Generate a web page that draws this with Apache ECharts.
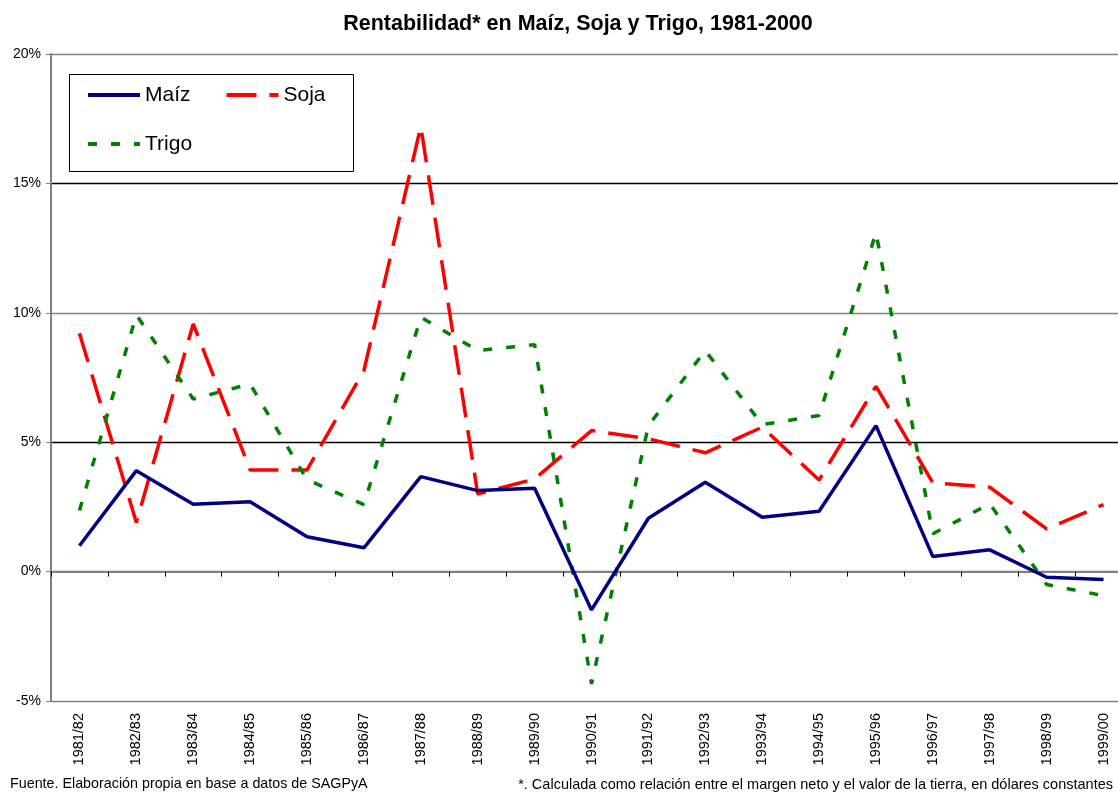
<!DOCTYPE html>
<html>
<head>
<meta charset="utf-8">
<script src="https://cdn.jsdelivr.net/npm/echarts@6/dist/echarts.min.js"></script>
<style>html,body{margin:0;padding:0;background:#fff;overflow:hidden;width:1118px;height:793px}#c{width:1132px;height:793px}</style>
</head>
<body>
<div id="c"></div>
<script>
const categories = ['1981/82','1982/83','1983/84','1984/85','1985/86','1986/87','1987/88','1988/89','1989/90','1990/91','1991/92','1992/93','1993/94','1994/95','1995/96','1996/97','1997/98','1998/99','1999/00'];
const maiz  = [1.0, 3.9, 2.6, 2.7, 1.35, 0.92, 3.67, 3.13, 3.22, -1.48, 2.06, 3.45, 2.1, 2.33, 5.64, 0.58, 0.84, -0.22, -0.31];
const soja  = [9.21, 1.9, 9.57, 3.93, 3.93, 7.77, 17.2, 3.0, 3.58, 5.45, 5.13, 4.59, 5.58, 3.54, 7.16, 3.43, 3.26, 1.65, 2.59];
const trigo = [2.36, 9.92, 6.67, 7.25, 3.55, 2.59, 9.83, 8.54, 8.77, -4.34, 5.64, 8.54, 5.68, 6.03, 13.1, 1.46, 2.62, -0.5, -0.93];
const yTicks = {min: -5, max: 20, interval: 5};
const titleText = 'Rentabilidad* en Maíz, Soja y Trigo, 1981-2000';
const sourceText = 'Fuente. Elaboración propia en base a datos de SAGPyA';
const noteText = '*. Calculada como relación entre el margen neto y el valor de la tierra, en dólares constantes';

const FONT = 'Liberation Sans, Arial, sans-serif';
const chart = echarts.init(document.getElementById('c'));
const legendText = {fontFamily: FONT, fontSize: 21, color: '#000', lineHeight: 24};
chart.setOption({
  animation: false,
  backgroundColor: '#fff',
  title: {
    text: titleText, left: 573, textAlign: 'center', top: 8,
    textStyle: {fontFamily: FONT, fontSize: 21.5, fontWeight: 'bold', color: '#000'}
  },
  grid: {left: 51, top: 54, right: 0, bottom: 92},
  legend: [
    {data: ['Maíz', 'Soja'], left: 86, top: 83, padding: 0, itemGap: 34, itemWidth: 52, itemHeight: 14,
     itemStyle: {opacity: 0}, lineStyle: {width: 4}, textStyle: legendText},
    {data: ['Trigo'], left: 86, top: 132, padding: 0, itemWidth: 52, itemHeight: 14,
     itemStyle: {opacity: 0}, lineStyle: {width: 4}, textStyle: legendText}
  ],
  graphic: [
    {type: 'rect', left: 67, top: 72, shape: {width: 284, height: 97}, style: {fill: 'none', stroke: '#000', lineWidth: 1}, z: 100},
    {type: 'text', left: 10, top: 777, style: {text: sourceText, font: '14.3px ' + FONT, fill: '#000'}},
    {type: 'text', right: 19, top: 777, style: {text: noteText, font: '14.5px ' + FONT, fill: '#000'}}
  ],
  xAxis: [
    {type: 'category', data: categories, boundaryGap: true,
     axisLine: {onZero: true, lineStyle: {color: '#808080', width: 2}},
     axisTick: {show: true, length: 5, lineStyle: {color: '#000'}},
     axisLabel: {show: false}},
    {type: 'category', data: categories, boundaryGap: true, position: 'bottom',
     axisLine: {show: false, onZero: false}, axisTick: {show: false},
     axisLabel: {rotate: 90, margin: 12, fontFamily: FONT, fontSize: 14.5, color: '#000', interval: 0}}
  ],
  yAxis: {
    type: 'value', min: yTicks.min, max: yTicks.max, interval: yTicks.interval,
    axisLine: {show: true, lineStyle: {color: '#808080', width: 2}},
    axisTick: {show: true, length: 5, lineStyle: {color: '#808080'}},
    axisLabel: {formatter: '{value}%', fontFamily: FONT, fontSize: 14, color: '#000', margin: 10},
    splitLine: {show: true, lineStyle: {color: ['#808080', '#808080', '#000', '#808080', '#000', '#808080'], width: 1.3}}
  },
  series: [
    {name: 'Maíz', type: 'line', data: maiz, symbol: 'none', color: '#000080',
     lineStyle: {color: '#000080', width: 3.5, type: 'solid'}, z: 5},
    {name: 'Soja', type: 'line', data: soja, symbol: 'none', color: '#ff0000',
     lineStyle: {color: '#ff0000', width: 3.5, type: [30, 13]}, z: 3},
    {name: 'Trigo', type: 'line', data: trigo, symbol: 'none', color: '#008000',
     lineStyle: {color: '#008000', width: 3.5, type: [9, 14]}, z: 4}
  ]
});
</script>
</body>
</html>
